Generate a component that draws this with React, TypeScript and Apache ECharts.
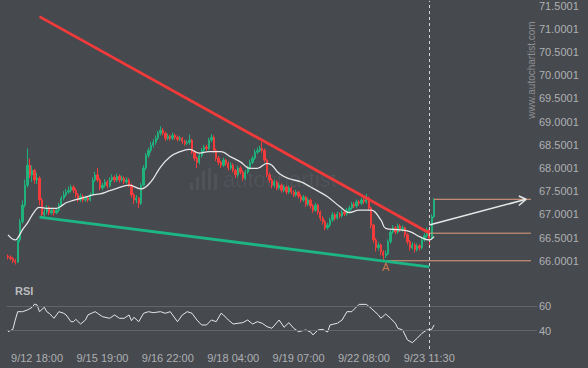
import React, { useEffect, useRef } from "react";
import * as echarts from "echarts";

// ---- data ----
const firstOpen = 66.1;
const closes = [
  66.08, 66.05, 66.0, 65.97, 66.45, 66.84, 67.2, 67.63, 68.06, 67.85,
  67.95, 67.74, 67.78, 67.31, 66.99, 67.05, 67.14, 67.03, 67.09, 67.03,
  67.09, 67.2, 67.35, 67.42, 67.48, 67.52, 67.59, 67.52, 67.42, 67.31,
  67.39, 67.31, 67.35, 67.31, 67.42, 67.74, 67.85, 67.74, 67.57, 67.63,
  67.7, 67.61, 67.74, 67.8, 67.74, 67.82, 67.74, 67.78, 67.7, 67.74,
  67.63, 67.42, 67.31, 67.35, 67.24, 67.63, 68.0, 68.27, 68.38, 68.49,
  68.55, 68.64, 68.75, 68.81, 68.75, 68.64, 68.68, 68.64, 68.7, 68.66,
  68.62, 68.64, 68.57, 68.53, 68.55, 68.6, 68.34, 68.21, 68.12, 68.27,
  68.38, 68.45, 68.42, 68.6, 68.66, 68.38, 68.21, 68.12, 68.06, 68.17,
  68.1, 68.0, 68.06, 67.95, 67.85, 68.0, 67.91, 67.78, 67.91, 68.0,
  68.12, 68.21, 68.34, 68.38, 68.42, 68.38, 68.17, 67.85, 67.74, 67.63,
  67.7, 67.57, 67.63, 67.52, 67.59, 67.48, 67.57, 67.48, 67.42, 67.48,
  67.39, 67.31, 67.37, 67.22, 67.31, 67.18, 67.09, 67.2, 67.05, 66.92,
  66.84, 66.71, 66.77, 66.88, 66.99, 66.92, 67.01, 66.97, 67.05, 67.01,
  67.09, 67.14, 67.22, 67.18, 67.27, 67.24, 67.31, 67.27, 67.35, 67.14,
  66.77, 66.45, 66.28, 66.34, 66.19, 66.11, 66.15, 66.41, 66.62, 66.71,
  66.62, 66.75, 66.67, 66.71, 66.56, 66.41, 66.28, 66.34, 66.24, 66.32,
  66.28, 66.45, 66.54, 66.67, 66.49, 66.95, 67.31,
];
const highs = [
  66.14, 66.12, 66.08, 66.04, 66.5, 66.9, 67.3, 67.75, 68.42, 68.2,
  68.05, 67.98, 67.9, 67.82, 67.35, 67.12, 67.2, 67.18, 67.14, 67.13,
  67.14, 67.25, 67.4, 67.5, 67.55, 67.6, 67.64, 67.63, 67.56, 67.46,
  67.45, 67.43, 67.4, 67.38, 67.47, 67.8, 67.92, 68.0, 67.78, 67.68,
  67.76, 67.74, 67.8, 67.86, 67.84, 67.88, 67.86, 67.84, 67.82, 67.8,
  67.78, 67.66, 67.46, 67.42, 67.38, 67.68, 68.06, 68.32, 68.44, 68.56,
  68.62, 68.7, 68.8, 68.9, 68.86, 68.78, 68.74, 68.72, 68.76, 68.74,
  68.7, 68.69, 68.67, 68.61, 68.6, 68.72, 68.63, 68.38, 68.25, 68.32,
  68.43, 68.5, 68.5, 68.65, 68.73, 68.7, 68.42, 68.26, 68.16, 68.22,
  68.2, 68.14, 68.12, 68.1, 67.98, 68.05, 68.04, 67.95, 67.96, 68.05,
  68.18, 68.26, 68.4, 68.44, 68.48, 68.56, 68.42, 68.2, 67.9, 67.78,
  67.75, 67.73, 67.68, 67.67, 67.64, 67.62, 67.62, 67.6, 67.52, 67.53,
  67.51, 67.43, 67.42, 67.4, 67.36, 67.34, 67.22, 67.25, 67.23, 67.08,
  66.96, 66.88, 66.82, 66.93, 67.05, 67.03, 67.06, 67.05, 67.1, 67.09,
  67.14, 67.19, 67.27, 67.26, 67.32, 67.31, 67.36, 67.35, 67.44, 67.38,
  67.17, 66.8, 66.49, 66.4, 66.37, 66.23, 66.22, 66.46, 66.68, 66.77,
  66.75, 66.8, 66.79, 66.76, 66.74, 66.6, 66.45, 66.4, 66.38, 66.37,
  66.36, 66.5, 66.6, 66.72, 66.7, 67.0, 67.35,
];
const lows = [
  66.03, 66.01, 65.95, 65.92, 65.95, 66.4, 66.8, 67.15, 67.58, 67.78,
  67.7, 67.66, 67.65, 67.2, 66.94, 66.95, 67.0, 66.98, 66.99, 66.97,
  67.0, 67.05, 67.16, 67.3, 67.38, 67.44, 67.47, 67.46, 67.36, 67.27,
  67.27, 67.26, 67.27, 67.26, 67.28, 67.4, 67.7, 67.7, 67.52, 67.52,
  67.58, 67.56, 67.58, 67.7, 67.69, 67.7, 67.68, 67.7, 67.65, 67.66,
  67.58, 67.36, 67.22, 67.24, 67.14, 67.2, 67.6, 67.96, 68.22, 68.33,
  68.44, 68.5, 68.6, 68.7, 68.7, 68.58, 68.6, 68.59, 68.6, 68.61,
  68.57, 68.58, 68.52, 68.48, 68.49, 68.5, 68.3, 68.15, 68.0, 68.08,
  68.22, 68.33, 68.37, 68.38, 68.55, 68.33, 68.15, 68.06, 68.0, 68.02,
  68.04, 67.94, 67.96, 67.9, 67.78, 67.8, 67.86, 67.72, 67.74, 67.87,
  67.96, 68.08, 68.17, 68.3, 68.34, 68.33, 68.12, 67.8, 67.68, 67.56,
  67.58, 67.52, 67.53, 67.47, 67.48, 67.43, 67.44, 67.43, 67.37, 67.38,
  67.34, 67.26, 67.27, 67.16, 67.18, 67.12, 67.03, 67.05, 66.99, 66.86,
  66.78, 66.66, 66.67, 66.73, 66.84, 66.87, 66.88, 66.92, 66.93, 66.96,
  66.97, 67.05, 67.1, 67.13, 67.14, 67.19, 67.2, 67.22, 67.23, 67.08,
  66.7, 66.38, 66.2, 66.22, 66.12, 66.0, 66.06, 66.12, 66.37, 66.58,
  66.57, 66.58, 66.62, 66.63, 66.5, 66.35, 66.22, 66.24, 66.18, 66.2,
  66.22, 66.25, 66.41, 66.5, 66.32, 66.46, 66.92,
];

// moving average line (bar index, value)
const maPoints = [
  [0, 66.56], [3, 66.45], [4, 66.49], [6, 66.67], [8, 66.81], [10, 66.99],
  [12, 67.13], [13, 67.15], [16, 67.13], [20, 67.13], [22, 67.18], [24, 67.25],
  [28, 67.32], [32, 67.37], [35, 67.42], [38, 67.44], [42, 67.51], [45, 67.56],
  [50, 67.63], [55, 67.55], [59, 67.7], [63, 68.02], [67, 68.24], [71, 68.35],
  [75, 68.4], [79, 68.32], [83, 68.35], [88, 68.35], [92, 68.24], [96, 68.13],
  [100, 67.99], [103, 67.99], [107, 68.1], [109, 68.06], [112, 67.88], [116, 67.77],
  [121, 67.7], [125, 67.59], [126, 67.56], [132, 67.38], [137, 67.17], [141, 67.04],
  [145, 67.09], [150, 67.09], [154, 66.88], [156, 66.7], [161, 66.67], [166, 66.63],
  [170, 66.52], [174, 66.45], [176, 66.52],
];

// RSI (bar index, value)
const rsiPoints = [
  [0, 39.2], [2, 41.1], [3, 48.8], [4, 55.6], [6, 55.6], [8, 57.0], [10, 59.2],
  [11, 61.9], [12, 61.1], [13, 55.6], [15, 59.2], [16, 55.6], [17, 54.3], [19, 50.2],
  [20, 52.9], [21, 55.6], [23, 54.3], [24, 52.9], [26, 47.4], [27, 47.4], [28, 49.3],
  [30, 45.5], [32, 48.8], [33, 52.9], [35, 54.8], [36, 55.6], [37, 54.3], [39, 51.5],
  [42, 50.2], [44, 52.9], [46, 50.2], [48, 50.2], [50, 52.9], [51, 48.2], [52, 51.0],
  [54, 47.4], [56, 54.3], [58, 55.6], [60, 54.8], [63, 55.6], [65, 54.3], [67, 55.6],
  [68, 52.9], [70, 47.4], [72, 52.9], [74, 55.6], [76, 54.3], [78, 48.8], [80, 44.7],
  [82, 44.7], [84, 48.8], [86, 47.4], [88, 54.3], [89, 52.9], [91, 48.8], [93, 45.5],
  [95, 46.1], [97, 46.6], [99, 48.8], [101, 45.5], [103, 47.4], [105, 46.1], [107, 43.3],
  [109, 42.0], [112, 48.8], [114, 42.8], [116, 46.6], [118, 42.0], [120, 39.2], [123, 40.6],
  [125, 38.9], [126, 36.5], [128, 40.6], [130, 41.1], [132, 38.9], [133, 44.7], [136, 46.1],
  [138, 48.8], [140, 55.6], [142, 55.6], [145, 61.6], [148, 61.6], [150, 58.4], [153, 52.9],
  [154, 50.2], [156, 53.7], [158, 50.2], [160, 46.1], [161, 42.0], [163, 40.6], [165, 32.4],
  [167, 30.2], [169, 33.8], [171, 37.9], [173, 40.6], [175, 41.1], [176, 44.7],
];

const tickIndex = [12, 39, 66, 93, 120, 147, 174];
const tickLabels = ["9/12 18:00", "9/15 19:00", "9/16 22:00", "9/18 04:00", "9/19 07:00", "9/22 08:00", "9/23 11:30"];
const slotCount = 219;

const resistance = [[13, 71.26], [174, 66.6]];
const support = [[13, 66.94], [174, 65.87]];
const levelTop = [[176, 67.325], [216, 67.325]];
const levelMid = [[174, 66.595], [216, 66.595]];
const levelLow = [[155, 66.0], [216, 66.0]];
const arrowShaft = [[174, 66.77], [214, 67.325]];
const arrowHead = [[210.5, 67.395], [214, 67.325], [210.5, 67.19]];
const pointA = [[156, 66.0]];
const breakIndex = 174;
const rsiLevels = [60, 40];

const FONT = "Liberation Sans, Arial, sans-serif";
const LABEL = "#aeb0b3";
const LEVEL = "#e3a07c";

export default function App() {
  const ref = useRef<HTMLDivElement>(null);
  useEffect(() => {
    if (!ref.current) return;
    const chart = echarts.init(ref.current, undefined, { renderer: "svg" });
    const categories = Array.from({ length: slotCount }, (_, i) => String(i));
    const candles = closes.map((c, i) => {
      const o = i === 0 ? firstOpen : closes[i - 1];
      return [o, c, lows[i], highs[i]];
    });
    const labelMap: Record<number, string> = {};
    tickIndex.forEach((t, k) => (labelMap[t] = tickLabels[k]));
    const vline = {
      silent: true,
      symbol: "none",
      label: { show: false },
      lineStyle: { color: "#d8d8d8", type: [3, 3], width: 1 },
      data: [{ xAxis: breakIndex }],
    };
    const lineSeries = (data: number[][], color: string, width: number, z = 5) => ({
      type: "line",
      xAxisIndex: 0,
      yAxisIndex: 0,
      data,
      symbol: "none",
      silent: true,
      z,
      lineStyle: { color, width },
    });
    chart.setOption({
      animation: false,
      backgroundColor: "#46494e",
      textStyle: { fontFamily: FONT },
      grid: [
        { left: 6.8, right: 51, top: 0, height: 284 },
        { left: 6.8, right: 51, top: 284, height: 65 },
      ],
      xAxis: [
        {
          type: "category",
          gridIndex: 0,
          data: categories,
          boundaryGap: true,
          show: false,
        },
        {
          type: "category",
          gridIndex: 1,
          data: categories,
          boundaryGap: true,
          axisLine: { show: false },
          axisTick: { show: false },
          splitLine: { show: false },
          axisLabel: {
            interval: (idx: number) => labelMap[idx] !== undefined,
            formatter: (_v: string, idx: number) => labelMap[idx] || "",
            color: LABEL,
            fontSize: 11,
            fontFamily: FONT,
            margin: 3,
          },
        },
      ],
      yAxis: [
        {
          type: "value",
          gridIndex: 0,
          position: "right",
          min: 65.5,
          max: 71.6,
          interval: 0.5,
          axisLine: { show: false },
          axisTick: { show: false },
          splitLine: { show: false },
          axisLabel: {
            showMinLabel: false,
            showMaxLabel: false,
            color: LABEL,
            fontSize: 11,
            fontFamily: FONT,
            margin: 2,
            formatter: (v: number) => (v + 0.0001).toFixed(4),
          },
        },
        {
          type: "value",
          gridIndex: 1,
          position: "right",
          min: 25,
          max: 78.3,
          show: false,
          splitLine: { show: false },
        },
      ],
      graphic: [
        {
          type: "text",
          x: 531,
          y: 70,
          rotation: Math.PI / 2,
          style: {
            text: "www.autochartist.com",
            fill: "#8d9094",
            fontSize: 10,
            fontFamily: FONT,
            align: "center",
            verticalAlign: "middle",
          },
          silent: true,
        },
        {
          type: "group",
          silent: true,
          children: [
            { type: "rect", shape: { x: 190, y: 183, width: 3, height: 7 }, style: { fill: "rgba(255,255,255,0.06)" } },
            { type: "rect", shape: { x: 196, y: 177, width: 3, height: 13 }, style: { fill: "rgba(255,255,255,0.06)" } },
            { type: "rect", shape: { x: 202, y: 171, width: 3, height: 19 }, style: { fill: "rgba(255,255,255,0.06)" } },
            { type: "rect", shape: { x: 208, y: 168, width: 3, height: 22 }, style: { fill: "rgba(255,255,255,0.06)" } },
            { type: "rect", shape: { x: 214, y: 174, width: 3, height: 16 }, style: { fill: "rgba(255,255,255,0.06)" } },
            {
              type: "text",
              x: 223,
              y: 190,
              style: {
                text: "autochartist",
                fill: "rgba(255,255,255,0.06)",
                fontSize: 22,
                fontFamily: FONT,
                align: "left",
                verticalAlign: "bottom",
              },
            },
          ],
        },
        {
          type: "text",
          x: 15,
          y: 291,
          style: {
            text: "RSI",
            fill: "#b9bbbe",
            fontSize: 11,
            fontWeight: "bold",
            fontFamily: FONT,
            align: "left",
            verticalAlign: "middle",
          },
          silent: true,
        },
      ],
      series: [
        {
          type: "candlestick",
          xAxisIndex: 0,
          yAxisIndex: 0,
          data: candles,
          barWidth: 1.8,
          silent: true,
          itemStyle: {
            color: "#1fb07c",
            color0: "#f23c3c",
            borderColor: "#1fb07c",
            borderColor0: "#f23c3c",
            borderWidth: 1,
          },
          markLine: vline,
        },
        {
          type: "line",
          xAxisIndex: 0,
          yAxisIndex: 0,
          data: maPoints,
          smooth: 0.4,
          symbol: "none",
          silent: true,
          z: 4,
          lineStyle: { color: "#e6e6e6", width: 1.3 },
        },
        lineSeries(resistance, "#f23a3a", 2.8, 6),
        lineSeries(support, "#1db583", 2.8, 6),
        lineSeries(levelTop, LEVEL, 1),
        lineSeries(levelMid, LEVEL, 1),
        lineSeries(levelLow, LEVEL, 1),
        lineSeries(arrowShaft, "#e8e8e8", 1.5, 7),
        lineSeries(arrowHead, "#e8e8e8", 1.5, 7),
        {
          type: "scatter",
          xAxisIndex: 0,
          yAxisIndex: 0,
          data: pointA,
          symbolSize: 0,
          silent: true,
          label: {
            show: true,
            formatter: "A",
            position: "bottom",
            distance: 1,
            color: "#e8864a",
            fontSize: 11,
            fontFamily: FONT,
          },
        },
        {
          type: "line",
          xAxisIndex: 1,
          yAxisIndex: 1,
          data: rsiPoints,
          symbol: "none",
          silent: true,
          lineStyle: { color: "#e6e6e6", width: 1 },
          markLine: {
            silent: true,
            symbol: "none",
            lineStyle: { color: "#62666b", type: "solid", width: 1 },
            label: {
              show: true,
              position: "end",
              distance: 2,
              color: LABEL,
              fontSize: 11,
              fontFamily: FONT,
              formatter: (p: any) => String(p.value),
            },
            data: rsiLevels.map((v) => ({ yAxis: v })),
          },
        },
        {
          type: "line",
          xAxisIndex: 1,
          yAxisIndex: 1,
          data: [],
          silent: true,
          markLine: vline,
        },
      ],
    });
    return () => chart.dispose();
  }, []);
  return (
    <div
      ref={ref}
      style={{ position: "fixed", left: 0, top: 0, width: 588, height: 368 }}
    />
  );
}
